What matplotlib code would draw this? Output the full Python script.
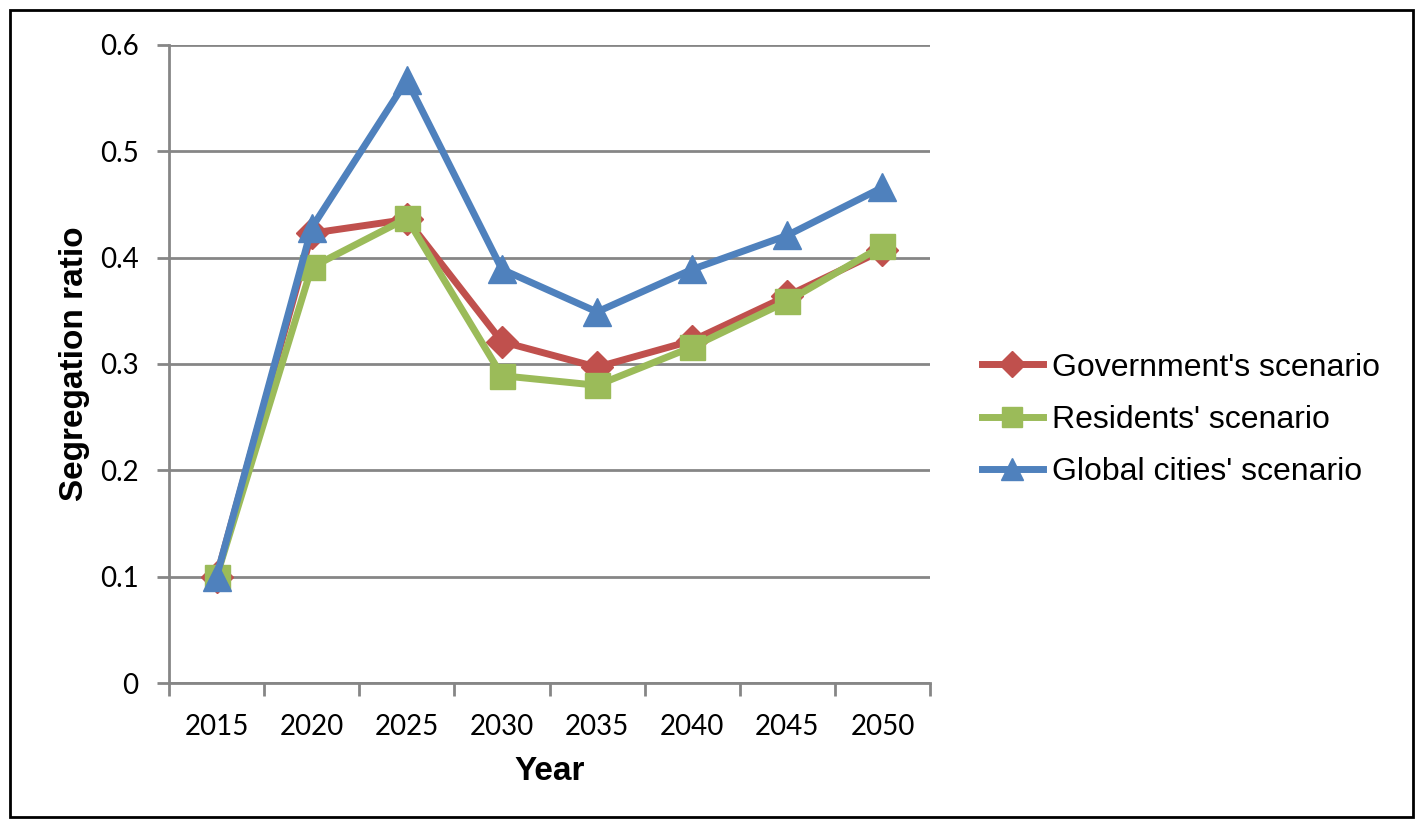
import matplotlib.pyplot as plt
from matplotlib.patches import Rectangle

years = ['2015', '2020', '2025', '2030', '2035', '2040', '2045', '2050']
government = [0.100, 0.423, 0.436, 0.321, 0.297, 0.322, 0.364, 0.407]
residents = [0.100, 0.391, 0.437, 0.289, 0.280, 0.316, 0.359, 0.411]
global_cities = [0.100, 0.428, 0.567, 0.389, 0.349, 0.389, 0.421, 0.466]

grid_col = '#868686'
W, H = 1423, 827

fig = plt.figure(figsize=(W / 100, H / 100), dpi=100)
ax = fig.add_axes([169 / W, 1 - 683 / H, (930 - 169) / W, (683 - 45) / H])

x = list(range(len(years)))
ax.plot(x, government, color='#C0504D', lw=5, marker='D', ms=16, label="Government's scenario")
ax.plot(x, residents, color='#9BBB59', lw=5, marker='s', ms=18, label="Residents' scenario")
ax.plot(x, global_cities, color='#4F81BD', lw=5, marker='^', ms=20, label="Global cities' scenario")

ax.set_xlim(-0.5, len(years) - 0.5)
ax.set_ylim(0, 0.6)
ax.set_yticks([0, 0.1, 0.2, 0.3, 0.4, 0.5, 0.6])
ax.set_yticklabels(['0', '0.1', '0.2', '0.3', '0.4', '0.5', '0.6'])
ax.yaxis.grid(True, color=grid_col, lw=2)
ax.set_axisbelow(True)

# tick marks on category boundaries, labels in the middle
ax.set_xticks([i - 0.5 for i in range(len(years) + 1)])
ax.set_xticklabels([])
ax.set_xticks(x, minor=True)
ax.set_xticklabels(years, minor=True)
ax.tick_params(axis='x', which='major', length=9, width=2, color=grid_col)
ax.tick_params(axis='x', which='minor', length=0, pad=22)
ax.tick_params(axis='y', length=9, width=2, color=grid_col, pad=13)
for lab in ax.get_xticklabels(minor=True) + ax.get_yticklabels():
    lab.set_fontfamily('Lato')
    lab.set_fontsize(20)

for s in ['top', 'right']:
    ax.spines[s].set_visible(False)
for s in ['left', 'bottom']:
    ax.spines[s].set_color(grid_col)
    ax.spines[s].set_linewidth(2)

ax.set_xlabel('Year', fontfamily='Liberation Sans', fontweight='bold', fontsize=24, labelpad=12)
ax.set_ylabel('Segregation ratio', fontfamily='Liberation Sans', fontweight='bold', fontsize=24, labelpad=7)

ax.legend(loc='center left', bbox_to_anchor=(982 / W, 1 - 420 / H), bbox_transform=fig.transFigure,
          frameon=False, borderpad=0, borderaxespad=0,
          prop={'family': 'Liberation Sans', 'size': 23}, handlelength=1.9,
          labelspacing=0.7, handletextpad=0.3, markerscale=0.8)

# border round the whole picture
fig.patches.append(Rectangle((10 / W, 10 / H), 1403 / W, 807 / H,
                             transform=fig.transFigure, fill=False, ec='black', lw=2))

fig.savefig('out.png', dpi=100)
